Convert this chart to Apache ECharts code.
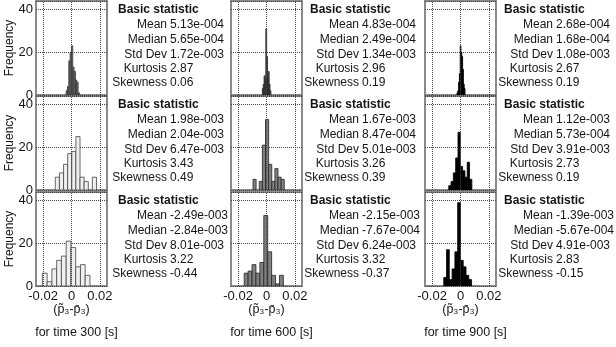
<!DOCTYPE html>
<html>
<head>
<meta charset="utf-8">
<script src="https://cdn.jsdelivr.net/npm/echarts@6/dist/echarts.min.js"></script>
<style>
  html, body { margin: 0; padding: 0; background: #fff; }
  #main { width: 616px; height: 347px; }
</style>
</head>
<body>
<div id="main"></div>
<script>
// columns = simulation time, rows = the three panels of each column
var times = ['300', '600', '900'];
var statNames = ['Mean', 'Median', 'Std Dev', 'Kurtosis', 'Skewness'];
var xTicks = [-0.02, 0, 0.02];

// histogram counts (10 bins per panel), top row first
var counts300 = [
  [2, 4, 16, 20, 23, 13, 11, 7, 6, 1],
  [6, 8, 12, 17, 18, 25, 6, 4, 0, 6],
  [6, 2, 8, 12, 14, 21, 18, 9, 10, 5]
];
var counts600 = [
  [3, 5, 9, 8, 31, 18, 8, 11, 5, 2],
  [5, 0, 4, 21, 33, 12, 4, 10, 6, 5],
  [6, 7, 10, 6, 11, 33, 16, 5, 1, 5]
];
var counts900 = [
  [1, 2, 6, 10, 23, 20, 18, 12, 5, 3],
  [2, 4, 8, 15, 27, 11, 9, 6, 13, 5],
  [4, 17, 3, 8, 16, 39, 12, 9, 5, 3]
];

// left edge of the first bin and bin width, per panel
var binStart300 = [-0.0038, -0.0114, -0.0205];
var binWidth300 = [0.00094, 0.0029, 0.00335];
var binStart600 = [-0.0029, -0.0095, -0.0157];
var binWidth600 = [0.0006, 0.0022, 0.00276];
var binStart900 = [-0.0025, -0.0083, -0.0118];
var binWidth900 = [0.00057, 0.00163, 0.00196];

// basic statistic values: Mean, Median, Std Dev, Kurtosis, Skewness
var stats300 = [
  ['5.13e-004', '5.65e-004', '1.72e-003', '2.87', '0.06'],
  ['1.98e-003', '2.04e-003', '6.47e-003', '3.43', '0.49'],
  ['-2.49e-003', '-2.84e-003', '8.01e-003', '3.22', '-0.44']
];
var stats600 = [
  ['4.83e-004', '2.49e-004', '1.34e-003', '2.96', '0.19'],
  ['1.67e-003', '8.47e-004', '5.01e-003', '3.26', '0.39'],
  ['-2.15e-003', '-7.67e-004', '6.24e-003', '3.32', '-0.37']
];
var stats900 = [
  ['2.68e-004', '1.68e-004', '1.08e-003', '2.67', '0.19'],
  ['1.12e-003', '5.73e-004', '3.91e-003', '2.73', '0.19'],
  ['-1.39e-003', '-5.67e-004', '4.91e-003', '2.83', '-0.15']
];

var allCounts = [counts300, counts600, counts900];
var allStart = [binStart300, binStart600, binStart900];
var allWidth = [binWidth300, binWidth600, binWidth900];
var allStats = [stats300, stats600, stats900];

// layout
var colLeft = [36, 231, 425];
var rowTop = [1, 96, 192];
var plotW = 71, plotH = 94;
var labelRight = [167, 359, 553];
var font = 'Liberation Sans, Arial, sans-serif';
var ink = '#151515';

// bar look per column (first column: top row darker)
function barStyle(c, r) {
  if (c === 0) return r === 0 ? { fill: '#7a7a7a', stroke: '#333' } : { fill: '#efefef', stroke: '#444' };
  if (c === 1) return { fill: '#808080', stroke: '#222' };
  return { fill: '#000', stroke: '#000' };
}

var chart = echarts.init(document.getElementById('main'));

var grids = [], xAxes = [], yAxes = [], series = [], graphics = [];

for (var c = 0; c < 3; c++) {
  for (var r = 0; r < 3; r++) {
    var idx = grids.length;
    grids.push({
      left: colLeft[c], top: rowTop[r], width: plotW, height: plotH,
      show: true, borderColor: '#8a8a8a', borderWidth: 2, backgroundColor: '#fff'
    });
    xAxes.push({
      gridIndex: idx, type: 'value', min: -0.025, max: 0.025,
      axisLine: { show: false }, axisTick: { show: false }, splitLine: { show: false },
      axisLabel: {
        show: r === 2, customValues: xTicks, margin: 4,
        fontSize: 13, fontFamily: font, color: ink,
        formatter: function (v) { return v === 0 ? '0' : v.toFixed(2); }
      }
    });
    yAxes.push({
      gridIndex: idx, type: 'value', min: 0, max: 44, interval: 20,
      axisLine: { show: false }, axisTick: { show: false },
      splitLine: { show: true, lineStyle: { type: 'dotted', color: '#444', width: 1 } },
      axisLabel: {
        show: c === 0, showMaxLabel: false, margin: 3,
        fontSize: 13, fontFamily: font, color: ink
      }
    });

    // bins as [left, right, count]
    var data = [];
    var cnt = allCounts[c][r];
    for (var i = 0; i < cnt.length; i++) {
      var lo = allStart[c][r] + i * allWidth[c][r];
      data.push([lo, lo + allWidth[c][r], cnt[i]]);
    }
    (function (st) {
      series.push({
        type: 'custom', xAxisIndex: idx, yAxisIndex: idx, z: 3, clip: true,
        encode: { x: [0, 1], y: 2 },
        data: data,
        renderItem: function (params, api) {
          if (api.value(2) <= 0) return;
          var p0 = api.coord([api.value(0), api.value(2)]);
          var p1 = api.coord([api.value(1), 0]);
          return {
            type: 'rect',
            shape: { x: p0[0], y: p0[1], width: p1[0] - p0[0], height: p1[1] - p0[1] },
            style: { fill: st.fill, stroke: st.stroke, lineWidth: 0.8 }
          };
        }
      });
    })(barStyle(c, r));

    // vertical dotted grid lines at the x ticks
    series.push({
      type: 'line', xAxisIndex: idx, yAxisIndex: idx, z: 1, data: [],
      markLine: {
        silent: true, symbol: 'none', label: { show: false },
        lineStyle: { type: 'dotted', color: '#444', width: 1 },
        data: xTicks.map(function (t) { return { xAxis: t }; })
      }
    });

    // statistics block
    var y0 = rowTop[r] - 1;
    graphics.push({
      type: 'text', x: labelRight[c] - 49, y: y0 + 10,
      style: { text: 'Basic statistic', font: 'bold 12px ' + font, fill: ink, align: 'left', verticalAlign: 'middle' }
    });
    var offs = [25, 40, 55, 69, 83];
    for (var k = 0; k < 5; k++) {
      graphics.push({
        type: 'text', x: labelRight[c], y: y0 + offs[k],
        style: { text: statNames[k], font: '12px ' + font, fill: ink, align: 'right', verticalAlign: 'middle' }
      });
      graphics.push({
        type: 'text', x: labelRight[c] + 3, y: y0 + offs[k],
        style: { text: allStats[c][r][k], font: '12px ' + font, fill: ink, align: 'left', verticalAlign: 'middle' }
      });
    }

    if (c === 0) {
      graphics.push({
        type: 'text', x: 10, y: rowTop[r] + 47, rotation: Math.PI / 2,
        style: { text: 'Frequency', font: '12px ' + font, fill: ink, align: 'center', verticalAlign: 'middle' }
      });
    }
  }
  // column captions
  graphics.push({
    type: 'text', x: colLeft[c] + plotW / 2, y: 310,
    style: { text: '(p\u0303\u2083-p\u0304\u2083)', font: '12.5px ' + font, fill: ink, align: 'center', verticalAlign: 'middle' }
  });
  graphics.push({
    type: 'text', x: colLeft[c] + plotW / 2 + 5, y: 333,
    style: { text: 'for time ' + times[c] + ' [s]', font: '12.5px ' + font, fill: ink, align: 'center', verticalAlign: 'middle' }
  });
}

chart.setOption({
  backgroundColor: '#fff',
  animation: false,
  grid: grids,
  xAxis: xAxes,
  yAxis: yAxes,
  series: series,
  graphic: graphics
});
</script>
</body>
</html>
